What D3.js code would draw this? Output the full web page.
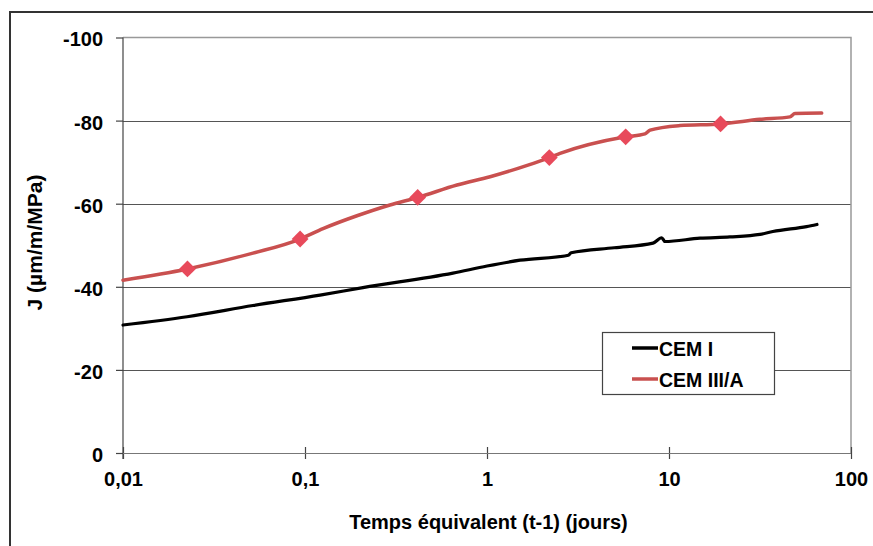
<!DOCTYPE html>
<html>
<head>
<meta charset="utf-8">
<script src="https://cdn.jsdelivr.net/npm/d3@7/dist/d3.min.js"></script>
<style>
  html, body { margin: 0; padding: 0; background: #fff; }
  svg { display: block; font-family: "Liberation Sans", Arial, sans-serif; font-weight: bold; }
</style>
</head>
<body>
<svg id="chart" width="873" height="546"></svg>
<script>
// ---- data ----
const xTicks = [0.01, 0.1, 1, 10, 100];
const xTickLabels = ["0,01", "0,1", "1", "10", "100"];
const yTicks = [0, -20, -40, -60, -80, -100];
const yTickLabels = ["0", "-20", "-40", "-60", "-80", "-100"];

const seriesNames = ["CEM I", "CEM III/A"];

const cemI_t = [0.01, 0.0225, 0.0518, 0.121, 0.208, 0.65, 1.0, 1.52, 2.8, 2.9, 5.0, 8.17, 9.12, 9.5, 14.8, 21.6, 31.6, 37.2, 57, 65];
const cemI_J = [-30.8, -32.8, -35.5, -38.0, -39.8, -43.3, -45.0, -46.4, -47.6, -48.2, -49.4, -50.5, -51.8, -50.9, -51.7, -52.0, -52.6, -53.3, -54.5, -55.0];

const cemIII_t = [0.01, 0.0226, 0.0518, 0.094, 0.1256, 0.193, 0.293, 0.416, 0.684, 1.04, 1.68, 2.2, 2.52, 5.78, 7.38, 7.87, 11.5, 19.2, 31.6, 46.2, 49.2, 69];
const cemIII_J = [-41.6, -44.3, -48.1, -51.5, -54.0, -57.1, -59.7, -61.5, -64.5, -66.5, -69.3, -71.1, -72.1, -76.1, -76.8, -77.7, -78.8, -79.2, -80.3, -80.9, -81.7, -81.8];

const markers_t = [0.0226, 0.094, 0.416, 2.2, 5.78, 19.2];
const markers_J = [-44.3, -51.5, -61.5, -71.1, -76.1, -79.2];

const xTitle = "Temps équivalent (t-1) (jours)";
const yTitle = "J (µm/m/MPa)";

// ---- layout ----
const svg = d3.select("#chart");
const pL = 123, pR = 851, pT = 37.5, pB = 453;

const x = d3.scaleLog().domain([0.01, 100]).range([pL, pR]);
const y = d3.scaleLinear().domain([0, -100]).range([pB, pT]);

// outer frame (only left and top visible)
svg.append("path")
  .attr("d", "M10,546 L10,12 L873,12")
  .attr("fill", "none").attr("stroke", "#333").attr("stroke-width", 2);

// gridlines
svg.append("g").selectAll("line")
  .data(yTicks.filter(d => d !== 0 && d !== -100))
  .join("line")
  .attr("x1", pL).attr("x2", pR)
  .attr("y1", d => Math.round(y(d)) + 0.5).attr("y2", d => Math.round(y(d)) + 0.5)
  .attr("stroke", "#555").attr("stroke-width", 1.2);

// plot area border top and right
svg.append("path")
  .attr("d", `M${pL},${pT} L${pR},${pT} L${pR},${pB}`)
  .attr("fill", "none").attr("stroke", "#999").attr("stroke-width", 1.5);

// y axis
const yAxis = d3.axisLeft(y).tickValues(yTicks).tickSize(7)
  .tickFormat((d, i) => yTickLabels[i]);
const gy = svg.append("g").attr("transform", `translate(${pL},0)`).call(yAxis);
gy.select(".domain").remove();
gy.selectAll(".tick line").attr("stroke", "#444").attr("stroke-width", 1.2);
gy.selectAll(".tick text")
  .attr("x", -20).attr("dy", "0.42em")
  .attr("font-size", 20).attr("font-weight", "bold").attr("fill", "#000")
  .attr("font-family", "Liberation Sans, Arial, sans-serif");
svg.append("line")
  .attr("x1", pL).attr("x2", pL).attr("y1", pT).attr("y2", pB + 6)
  .attr("stroke", "#444").attr("stroke-width", 1.2);

// x axis
const xAxis = d3.axisBottom(x).tickValues(xTicks).tickSize(6)
  .tickFormat((d, i) => xTickLabels[i]);
const gx = svg.append("g").attr("transform", `translate(0,${pB})`).call(xAxis);
gx.select(".domain").remove();
gx.selectAll(".tick line").attr("y1", -6).attr("y2", 6).attr("stroke", "#444").attr("stroke-width", 1.2);
gx.selectAll(".tick text")
  .attr("y", 33).attr("dy", 0)
  .attr("font-size", 20).attr("font-weight", "bold").attr("fill", "#000")
  .attr("font-family", "Liberation Sans, Arial, sans-serif");
svg.append("line")
  .attr("x1", pL).attr("x2", pR).attr("y1", pB + 0.5).attr("y2", pB + 0.5)
  .attr("stroke", "#777").attr("stroke-width", 1.2);

// lines
const line = d3.line().curve(d3.curveMonotoneX).x(d => x(d[0])).y(d => y(d[1]));
const dI = cemI_t.map((t, i) => [t, cemI_J[i]]);
const dIII = cemIII_t.map((t, i) => [t, cemIII_J[i]]);

svg.append("path").datum(dI).attr("d", line)
  .attr("fill", "none").attr("stroke", "#000").attr("stroke-width", 3.2)
  .attr("stroke-linejoin", "round").attr("stroke-linecap", "round");
svg.append("path").datum(dIII).attr("d", line)
  .attr("fill", "none").attr("stroke", "#c9504f").attr("stroke-width", 3.5)
  .attr("stroke-linejoin", "round").attr("stroke-linecap", "round");

// diamond markers
const diamond = d3.symbol().type(d3.symbolDiamond2).size(180);
svg.append("g").selectAll("path")
  .data(markers_t.map((t, i) => [t, markers_J[i]]))
  .join("path")
  .attr("d", diamond)
  .attr("transform", d => `translate(${x(d[0])},${y(d[1])})`)
  .attr("fill", "#e84a5b");

// legend
const lg = svg.append("g");
lg.append("rect").attr("x", 602.5).attr("y", 332.5).attr("width", 172).attr("height", 62)
  .attr("fill", "#fff").attr("stroke", "#444").attr("stroke-width", 1.2);
const legendColors = ["#000", "#c9504f"];
seriesNames.forEach((name, i) => {
  const yy = 348 + i * 31;
  lg.append("line").attr("x1", 632).attr("x2", 658).attr("y1", yy).attr("y2", yy)
    .attr("stroke", legendColors[i]).attr("stroke-width", 3.5);
  lg.append("text").attr("x", 659).attr("y", yy + 8)
    .attr("font-size", 19.5).attr("fill", "#000").text(name);
});

// axis titles
svg.append("text").attr("x", 488.5).attr("y", 529).attr("text-anchor", "middle")
  .attr("font-size", 20).attr("fill", "#000").text(xTitle);
svg.append("text").attr("transform", "translate(42,242.5) rotate(-90)")
  .attr("text-anchor", "middle").attr("font-size", 21).attr("fill", "#000").text(yTitle);
</script>
</body>
</html>
